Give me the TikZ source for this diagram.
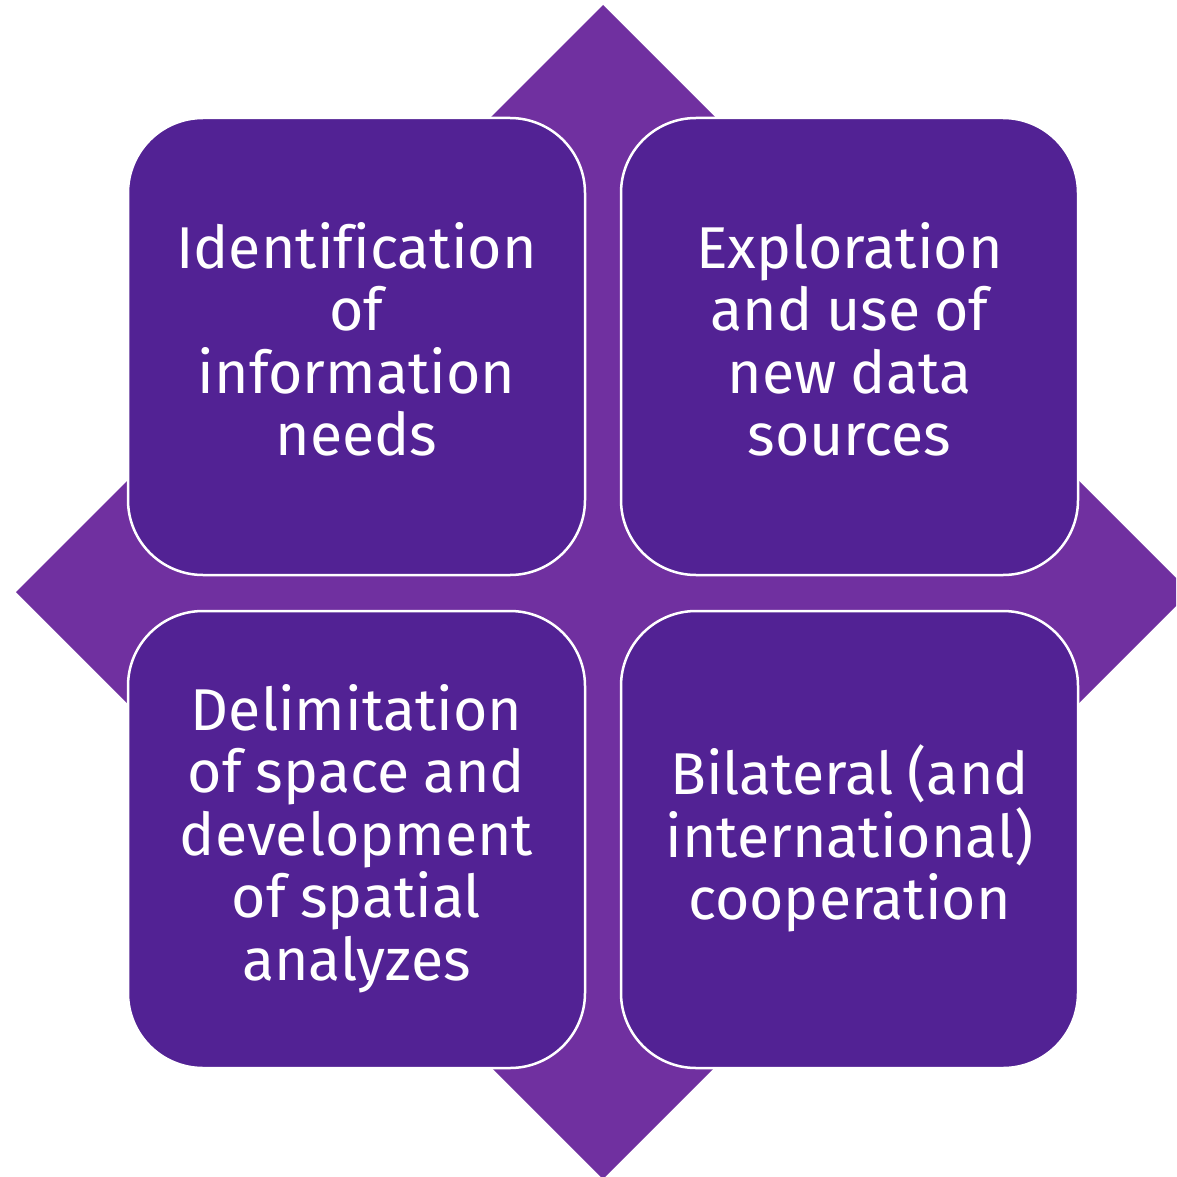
\documentclass[tikz,border=0pt]{standalone}
\usepackage{fontspec}
\setmainfont[Ligatures=NoCommon]{Fira Sans}
\definecolor{diamondpurple}{HTML}{7030A0}
\definecolor{boxpurple}{HTML}{522294}
\tikzset{
  quad/.style={draw=white, line width=2.5pt, fill=boxpurple, rounded corners=75pt,
    minimum width=457pt, minimum height=457pt, inner sep=0pt},
  quadtext/.style={text width=440pt, align=center, text=white, inner sep=0pt,
    font=\fontsize{59}{62.5}\selectfont,
    execute at begin node={\spaceskip=14pt\relax}},
  diamondshape/.style={fill=diamondpurple}
}
\begin{document}
\begin{tikzpicture}[x=1pt,y=-1pt]
\useasboundingbox (0,0) rectangle (1176,1177);
\clip (0,0) rectangle (1176,1177);
\coordinate (dt) at (603,5);
\coordinate (dr) at (1190,592);
\coordinate (db) at (603,1179);
\coordinate (dl) at (16,592);
\fill[diamondshape] (dt) -- (dr) -- (db) -- (dl) -- cycle;
\node[quad] (tl) at (356.5,346.5) {};
\node[quad] (tr) at (849.5,346.5) {};
\node[quad] (bl) at (356.5,839.5) {};
\node[quad] (br) at (849.5,839.5) {};
\node[quadtext] (tltext) at ([yshift=7pt]tl.center) {Identification\\of\\information\\needs};
\node[quadtext] (trtext) at ([yshift=7pt]tr.center) {Exploration\\and use of\\new data\\sources};
\node[quadtext] (bltext) at ([yshift=1pt]bl.center) {Delimitation\\of space and\\development\\of spatial\\analyzes};
\node[quadtext] (brtext) at ([yshift=1pt]br.center) {Bilateral (and\\international)\\cooperation};
\end{tikzpicture}
\end{document}
